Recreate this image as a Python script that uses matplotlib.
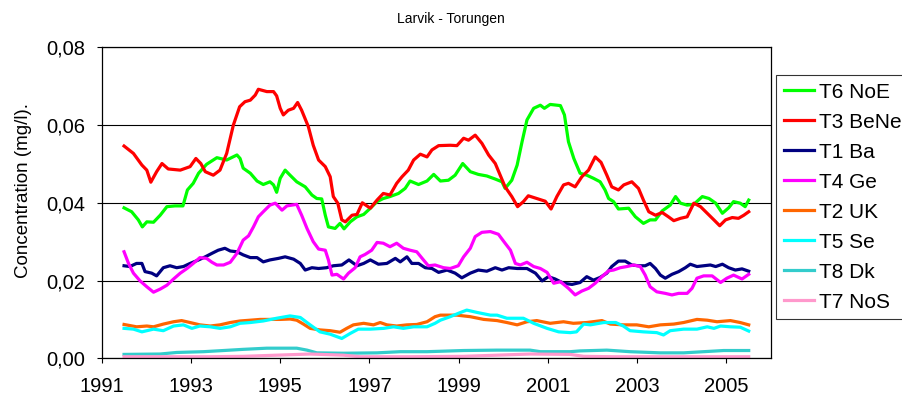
import matplotlib
matplotlib.use('Agg')
import matplotlib.pyplot as plt
from matplotlib.ticker import FuncFormatter

# all text in an arial-like font
plt.rcParams['font.family'] = ['Liberation Sans', 'DejaVu Sans']

# series names, legend order (also drawing order)
series_names = ['T6 NoE', 'T3 BeNe', 'T1 Ba', 'T4 Ge', 'T2 UK', 'T5 Se', 'T8 Dk', 'T7 NoS']
series_colors = ['#00FF00', '#FF0000', '#000080', '#FF00FF', '#FF6600', '#00FFFF', '#33CCCC', '#FF99CC']

# values (year, mg/l)
t6_years = [1991.50, 1991.67, 1991.82, 1991.91, 1992.01, 1992.16, 1992.31, 1992.46, 1992.64, 1992.82,
            1992.92, 1993.05, 1993.17, 1993.35, 1993.58, 1993.80, 1994.03, 1994.10, 1994.17, 1994.33,
            1994.48, 1994.62, 1994.77, 1994.85, 1994.92, 1995.00, 1995.11, 1995.22, 1995.37, 1995.56,
            1995.71, 1995.82, 1995.93, 1996.01, 1996.08, 1996.23, 1996.34, 1996.43, 1996.57, 1996.72,
            1996.87, 1997.02, 1997.17, 1997.31, 1997.46, 1997.65, 1997.80, 1997.91, 1998.10, 1998.29,
            1998.44, 1998.59, 1998.77, 1998.92, 1999.09, 1999.26, 1999.44, 1999.63, 1999.82, 1999.97,
            2000.04, 2000.19, 2000.31, 2000.42, 2000.53, 2000.68, 2000.83, 2000.92, 2001.05, 2001.28,
            2001.37, 2001.46, 2001.58, 2001.72, 2001.87, 2002.02, 2002.17, 2002.28, 2002.36, 2002.47,
            2002.58, 2002.81, 2002.96, 2003.14, 2003.29, 2003.41, 2003.56, 2003.74, 2003.86, 2003.97,
            2004.12, 2004.27, 2004.46, 2004.61, 2004.76, 2004.91, 2005.05, 2005.16, 2005.31, 2005.42,
            2005.50]
t6_values = [0.0387, 0.0377, 0.0356, 0.0338, 0.0351, 0.0350, 0.0368, 0.0390, 0.0392, 0.0392,
             0.0433, 0.0450, 0.0476, 0.0499, 0.0516, 0.0510, 0.0523, 0.0514, 0.0489, 0.0476,
             0.0456, 0.0447, 0.0454, 0.0446, 0.0427, 0.0463, 0.0484, 0.0471, 0.0454, 0.0441,
             0.0420, 0.0411, 0.0410, 0.0368, 0.0338, 0.0334, 0.0347, 0.0333, 0.0351, 0.0364,
             0.0370, 0.0386, 0.0403, 0.0411, 0.0416, 0.0424, 0.0437, 0.0456, 0.0447, 0.0456,
             0.0473, 0.0456, 0.0458, 0.0471, 0.0501, 0.0480, 0.0473, 0.0469, 0.0461, 0.0454,
             0.0437, 0.0458, 0.0497, 0.0557, 0.0613, 0.0643, 0.0651, 0.0643, 0.0653, 0.0650,
             0.0626, 0.0557, 0.0514, 0.0476, 0.0471, 0.0463, 0.0454, 0.0433, 0.0411, 0.0403,
             0.0384, 0.0386, 0.0364, 0.0347, 0.0356, 0.0356, 0.0379, 0.0394, 0.0416, 0.0399,
             0.0394, 0.0396, 0.0416, 0.0411, 0.0399, 0.0373, 0.0387, 0.0403, 0.0399, 0.0390,
             0.0407]

t3_years = [1991.50, 1991.71, 1991.90, 1992.01, 1992.10, 1992.23, 1992.35, 1992.49, 1992.76, 1992.98,
            1993.11, 1993.22, 1993.32, 1993.50, 1993.65, 1993.80, 1993.95, 1994.09, 1994.21, 1994.33,
            1994.44, 1994.51, 1994.70, 1994.85, 1994.92, 1995.00, 1995.07, 1995.18, 1995.30, 1995.39,
            1995.48, 1995.63, 1995.74, 1995.86, 1996.01, 1996.12, 1996.19, 1996.29, 1996.38, 1996.46,
            1996.61, 1996.72, 1996.84, 1997.02, 1997.17, 1997.31, 1997.46, 1997.61, 1997.73, 1997.87,
            1997.99, 1998.14, 1998.29, 1998.40, 1998.55, 1998.81, 1998.96, 1999.11, 1999.22, 1999.37,
            1999.52, 1999.67, 1999.82, 1999.93, 2000.04, 2000.19, 2000.32, 2000.45, 2000.56, 2000.75,
            2000.94, 2001.07, 2001.20, 2001.35, 2001.46, 2001.61, 2001.76, 2001.91, 2002.06, 2002.19,
            2002.32, 2002.43, 2002.58, 2002.70, 2002.88, 2003.03, 2003.14, 2003.26, 2003.41, 2003.56,
            2003.70, 2003.82, 2003.97, 2004.12, 2004.27, 2004.42, 2004.57, 2004.72, 2004.85, 2004.98,
            2005.13, 2005.27, 2005.39, 2005.50]
t3_values = [0.0546, 0.0527, 0.0497, 0.0484, 0.0453, 0.0480, 0.0501, 0.0487, 0.0484, 0.0493,
             0.0514, 0.0501, 0.0480, 0.0471, 0.0484, 0.0527, 0.0600, 0.0647, 0.0660, 0.0664,
             0.0677, 0.0692, 0.0686, 0.0686, 0.0675, 0.0643, 0.0626, 0.0638, 0.0643, 0.0658,
             0.0638, 0.0596, 0.0548, 0.0510, 0.0493, 0.0467, 0.0416, 0.0399, 0.0356, 0.0351,
             0.0368, 0.0370, 0.0400, 0.0386, 0.0407, 0.0424, 0.0420, 0.0450, 0.0467, 0.0484,
             0.0510, 0.0525, 0.0518, 0.0536, 0.0547, 0.0548, 0.0547, 0.0566, 0.0561, 0.0574,
             0.0553, 0.0523, 0.0501, 0.0471, 0.0441, 0.0416, 0.0390, 0.0403, 0.0418, 0.0411,
             0.0404, 0.0384, 0.0416, 0.0446, 0.0450, 0.0441, 0.0467, 0.0484, 0.0518, 0.0504,
             0.0471, 0.0441, 0.0433, 0.0446, 0.0454, 0.0437, 0.0407, 0.0377, 0.0368, 0.0375,
             0.0364, 0.0354, 0.0360, 0.0364, 0.0399, 0.0390, 0.0373, 0.0356, 0.0341, 0.0356,
             0.0362, 0.0360, 0.0368, 0.0377]

t1_years = [1991.50, 1991.63, 1991.78, 1991.90, 1991.97, 1992.12, 1992.23, 1992.38, 1992.53, 1992.68,
            1992.83, 1992.98, 1993.17, 1993.32, 1993.47, 1993.61, 1993.76, 1993.88, 1994.03, 1994.17,
            1994.33, 1994.48, 1994.62, 1994.77, 1994.96, 1995.11, 1995.30, 1995.45, 1995.56, 1995.71,
            1995.86, 1996.04, 1996.19, 1996.38, 1996.54, 1996.72, 1996.87, 1997.02, 1997.20, 1997.39,
            1997.58, 1997.69, 1997.84, 1997.95, 1998.10, 1998.25, 1998.40, 1998.55, 1998.74, 1998.92,
            1999.07, 1999.26, 1999.44, 1999.63, 1999.82, 1999.97, 2000.12, 2000.31, 2000.53, 2000.72,
            2000.87, 2001.01, 2001.16, 2001.35, 2001.54, 2001.72, 2001.87, 2002.02, 2002.17, 2002.32,
            2002.43, 2002.58, 2002.73, 2002.88, 2003.03, 2003.18, 2003.29, 2003.41, 2003.52, 2003.63,
            2003.78, 2003.93, 2004.08, 2004.19, 2004.34, 2004.49, 2004.64, 2004.76, 2004.91, 2005.05,
            2005.20, 2005.35, 2005.50]
t1_values = [0.0238, 0.0236, 0.0244, 0.0244, 0.0223, 0.0219, 0.0212, 0.0233, 0.0238, 0.0233,
             0.0236, 0.0244, 0.0253, 0.0261, 0.0270, 0.0278, 0.0283, 0.0276, 0.0274, 0.0266,
             0.0259, 0.0259, 0.0248, 0.0253, 0.0257, 0.0261, 0.0255, 0.0244, 0.0227, 0.0233,
             0.0231, 0.0233, 0.0238, 0.0240, 0.0253, 0.0238, 0.0244, 0.0253, 0.0242, 0.0244,
             0.0257, 0.0248, 0.0261, 0.0244, 0.0244, 0.0233, 0.0231, 0.0221, 0.0227, 0.0219,
             0.0207, 0.0219, 0.0227, 0.0224, 0.0233, 0.0227, 0.0233, 0.0231, 0.0231, 0.0219,
             0.0199, 0.0210, 0.0204, 0.0193, 0.0190, 0.0195, 0.0210, 0.0201, 0.0208, 0.0219,
             0.0236, 0.0250, 0.0250, 0.0240, 0.0238, 0.0238, 0.0244, 0.0231, 0.0214, 0.0206,
             0.0216, 0.0223, 0.0233, 0.0242, 0.0236, 0.0238, 0.0240, 0.0236, 0.0242, 0.0233,
             0.0227, 0.0230, 0.0224]

t4_years = [1991.50, 1991.60, 1991.71, 1991.86, 1992.01, 1992.16, 1992.31, 1992.46, 1992.61, 1992.76,
            1992.91, 1993.05, 1993.20, 1993.35, 1993.47, 1993.58, 1993.73, 1993.88, 1994.03, 1994.17,
            1994.29, 1994.40, 1994.51, 1994.62, 1994.77, 1994.89, 1995.04, 1995.15, 1995.37, 1995.48,
            1995.60, 1995.74, 1995.86, 1996.01, 1996.08, 1996.16, 1996.27, 1996.42, 1996.53, 1996.68,
            1996.79, 1996.90, 1997.05, 1997.17, 1997.31, 1997.46, 1997.61, 1997.76, 1997.91, 1998.06,
            1998.21, 1998.32, 1998.47, 1998.66, 1998.81, 1998.99, 1999.11, 1999.26, 1999.37, 1999.52,
            1999.71, 1999.89, 2000.04, 2000.16, 2000.27, 2000.38, 2000.53, 2000.68, 2000.83, 2000.98,
            2001.13, 2001.28, 2001.46, 2001.61, 2001.76, 2001.91, 2002.06, 2002.21, 2002.36, 2002.47,
            2002.62, 2002.77, 2002.92, 2003.07, 2003.18, 2003.29, 2003.44, 2003.63, 2003.78, 2003.93,
            2004.12, 2004.23, 2004.34, 2004.49, 2004.68, 2004.87, 2005.01, 2005.16, 2005.35, 2005.50]
t4_values = [0.0274, 0.0244, 0.0219, 0.0199, 0.0184, 0.0170, 0.0178, 0.0188, 0.0204, 0.0219,
             0.0231, 0.0244, 0.0259, 0.0257, 0.0247, 0.0240, 0.0240, 0.0247, 0.0270, 0.0304,
             0.0315, 0.0338, 0.0364, 0.0377, 0.0394, 0.0399, 0.0381, 0.0392, 0.0396, 0.0368,
             0.0334, 0.0300, 0.0281, 0.0278, 0.0253, 0.0214, 0.0216, 0.0204, 0.0219, 0.0233,
             0.0261, 0.0267, 0.0278, 0.0298, 0.0296, 0.0287, 0.0296, 0.0283, 0.0278, 0.0274,
             0.0253, 0.0238, 0.0240, 0.0233, 0.0231, 0.0238, 0.0261, 0.0283, 0.0313, 0.0324,
             0.0326, 0.0319, 0.0296, 0.0278, 0.0244, 0.0240, 0.0247, 0.0236, 0.0231, 0.0221,
             0.0193, 0.0197, 0.0180, 0.0163, 0.0173, 0.0180, 0.0193, 0.0210, 0.0225, 0.0227,
             0.0233, 0.0236, 0.0240, 0.0236, 0.0214, 0.0184, 0.0171, 0.0167, 0.0163, 0.0167,
             0.0167, 0.0180, 0.0206, 0.0212, 0.0212, 0.0195, 0.0206, 0.0214, 0.0204, 0.0216]

t2_years = [1991.50, 1991.78, 1992.01, 1992.16, 1992.38, 1992.61, 1992.79, 1992.98, 1993.20, 1993.43,
            1993.65, 1993.88, 1994.10, 1994.33, 1994.55, 1994.77, 1995.00, 1995.22, 1995.37, 1995.52,
            1995.67, 1995.89, 1996.12, 1996.34, 1996.49, 1996.64, 1996.87, 1997.09, 1997.24, 1997.39,
            1997.61, 1997.84, 1998.06, 1998.29, 1998.47, 1998.59, 1998.96, 1999.26, 1999.56, 1999.86,
            2000.08, 2000.31, 2000.53, 2000.75, 2001.05, 2001.35, 2001.57, 2001.87, 2002.21, 2002.40,
            2002.69, 2002.99, 2003.26, 2003.52, 2003.82, 2004.04, 2004.34, 2004.57, 2004.79, 2005.09,
            2005.31, 2005.50]
t2_values = [0.0087, 0.0081, 0.0083, 0.0081, 0.0088, 0.0094, 0.0097, 0.0092, 0.0086, 0.0083,
             0.0086, 0.0092, 0.0096, 0.0098, 0.0100, 0.0100, 0.0100, 0.0101, 0.0098, 0.0088,
             0.0077, 0.0073, 0.0071, 0.0067, 0.0077, 0.0086, 0.0090, 0.0086, 0.0092, 0.0086,
             0.0083, 0.0086, 0.0087, 0.0094, 0.0107, 0.0111, 0.0111, 0.0107, 0.0100, 0.0097,
             0.0092, 0.0086, 0.0094, 0.0097, 0.0090, 0.0094, 0.0090, 0.0092, 0.0097, 0.0088,
             0.0086, 0.0086, 0.0081, 0.0086, 0.0088, 0.0092, 0.0100, 0.0098, 0.0094, 0.0097,
             0.0092, 0.0086]

t5_years = [1991.50, 1991.71, 1991.90, 1992.16, 1992.38, 1992.61, 1992.83, 1993.02, 1993.20, 1993.43,
            1993.65, 1993.88, 1994.10, 1994.33, 1994.62, 1994.92, 1995.22, 1995.45, 1995.67, 1995.89,
            1996.12, 1996.38, 1996.57, 1996.75, 1997.02, 1997.32, 1997.54, 1997.76, 1997.99, 1998.29,
            1998.47, 1998.59, 1998.81, 1999.00, 1999.18, 1999.41, 1999.71, 1999.86, 2000.08, 2000.45,
            2000.68, 2000.98, 2001.24, 2001.50, 2001.64, 2001.80, 2001.95, 2002.25, 2002.52, 2002.69,
            2002.84, 2003.14, 2003.44, 2003.59, 2003.74, 2004.04, 2004.34, 2004.57, 2004.72, 2004.87,
            2005.09, 2005.31, 2005.50]
t5_values = [0.0077, 0.0075, 0.0068, 0.0075, 0.0071, 0.0083, 0.0086, 0.0077, 0.0083, 0.0081,
             0.0077, 0.0081, 0.0090, 0.0092, 0.0096, 0.0103, 0.0109, 0.0105, 0.0086, 0.0068,
             0.0062, 0.0051, 0.0064, 0.0075, 0.0075, 0.0077, 0.0081, 0.0077, 0.0081, 0.0081,
             0.0090, 0.0098, 0.0107, 0.0116, 0.0124, 0.0118, 0.0111, 0.0111, 0.0103, 0.0103,
             0.0090, 0.0077, 0.0068, 0.0066, 0.0068, 0.0088, 0.0086, 0.0092, 0.0092, 0.0083,
             0.0071, 0.0068, 0.0066, 0.0060, 0.0071, 0.0075, 0.0075, 0.0081, 0.0077, 0.0083,
             0.0081, 0.0080, 0.0070]

t8_years = [1991.50, 1992.31, 1992.68, 1993.28, 1993.73, 1994.17, 1994.70, 1995.37, 1995.60, 1995.82,
            1996.42, 1997.17, 1997.69, 1998.29, 1999.11, 1999.86, 2000.60, 2000.83, 2001.50, 2001.72,
            2002.32, 2002.84, 2003.52, 2004.04, 2004.94, 2005.50]
t8_values = [0.0010, 0.0011, 0.0015, 0.0017, 0.0020, 0.0023, 0.0026, 0.0026, 0.0021, 0.0014,
             0.0013, 0.0014, 0.0017, 0.0017, 0.0020, 0.0021, 0.0021, 0.0017, 0.0017, 0.0019,
             0.0021, 0.0017, 0.0014, 0.0014, 0.0020, 0.0020]

t7_years = [1991.50, 1993.43, 1994.17, 1994.92, 1995.67, 1996.42, 1996.79, 1997.91, 1999.11, 1999.86,
            2000.60, 2001.50, 2001.80, 2002.47, 2005.50]
t7_values = [0.0004, 0.0004, 0.0005, 0.0008, 0.0011, 0.0008, 0.0004, 0.0004, 0.0005, 0.0008,
             0.0011, 0.0010, 0.0005, 0.0004, 0.0004]

# axis ticks
x_ticks = [1991, 1993, 1995, 1997, 1999, 2001, 2003, 2005]
y_ticks = [0.00, 0.02, 0.04, 0.06, 0.08]

series_years = [t6_years, t3_years, t1_years, t4_years, t2_years, t5_years, t8_years, t7_years]
series_values = [t6_values, t3_values, t1_values, t4_values, t2_values, t5_values, t8_values, t7_values]

fig = plt.figure(figsize=(9.02, 4.01), dpi=100)
ax = fig.add_axes([0.1128, 0.1065, 0.742, 0.7756])

# horizontal gridlines behind the data
ax.set_axisbelow(True)
ax.yaxis.grid(True, color='#000000', linewidth=0.8)

for name, color, xs, ys in zip(series_names, series_colors, series_years, series_values):
    ax.plot(xs, ys, color=color, linewidth=2.3, label=name, solid_joinstyle='round')

ax.set_xlim(1991, 2006)
ax.set_ylim(0, 0.08)
ax.set_xticks(x_ticks)
ax.set_yticks(y_ticks)
ax.yaxis.set_major_formatter(FuncFormatter(lambda v, p: ('%.2f' % v).replace('.', ',')))
ax.tick_params(axis='both', direction='out', length=3.6, width=0.8, color='black',
               labelsize=14.5)
ax.tick_params(axis='x', pad=10)
ax.tick_params(axis='y', pad=8.6)

for s in ax.spines.values():
    s.set_color('black')
    s.set_linewidth(0.9)

ax.set_ylabel('Concentration (mg/l).', fontsize=13.5)
ax.yaxis.set_label_coords(-0.104, 0.538)

# title is centred on the whole chart area
fig.text(0.5, 1 - 19.0/401, 'Larvik - Torungen', ha='center', va='center', fontsize=10)

# legend box sits right of the plot and runs off the edge
leg = ax.legend(loc='upper left', bbox_to_anchor=(776/902, 1 - 75/401),
                bbox_transform=fig.transFigure, borderaxespad=0, fontsize=15,
                handlelength=1.45, handletextpad=0.25, labelspacing=0.53,
                borderpad=0.36, fancybox=False, frameon=True)
leg.get_frame().set_edgecolor('black')
leg.get_frame().set_linewidth(0.8)
for line in leg.get_lines():
    line.set_linewidth(2.3)

fig.savefig('out.png', dpi=100)
